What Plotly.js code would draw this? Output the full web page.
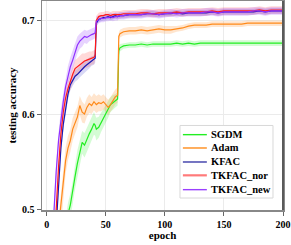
<!DOCTYPE html>
<html><head><meta charset="utf-8">
<script src="https://cdn.plot.ly/plotly-3.0.1.min.js"></script>
<style>html,body{margin:0;padding:0;background:#fff}#chart{width:291px;height:245px}</style>
</head><body><div id="chart"></div>
<script>
const epochs = [4,6,8,10,12,14,16,18,20,22,24,26,28,30,32,34,36,38,40,41,42,44,46,48,50,52,54,56,58,60,61,62,65,70,75,80,85,90,95,100,105,110,115,120,125,130,135,140,145,150,155,160,165,170,175,180,185,190,195,200];

const seriesNames = ["SGDM","Adam","KFAC","TKFAC_nor","TKFAC_new"];

const sgdm = [0.35,0.38,0.41,0.43,0.45,0.465,0.48,0.495,0.505,0.518,0.535,0.549,0.56,0.571,0.568,0.575,0.58,0.585,0.591,0.589,0.585,0.587,0.592,0.597,0.601,0.606,0.611,0.613,0.615,0.617,0.668,0.671,0.673,0.674,0.674,0.675,0.674,0.675,0.675,0.675,0.675,0.676,0.675,0.676,0.675,0.676,0.676,0.676,0.676,0.676,0.676,0.676,0.676,0.676,0.676,0.676,0.676,0.676,0.676,0.676];
const adam = [0.38,0.42,0.45,0.48,0.505,0.528,0.552,0.565,0.573,0.585,0.592,0.598,0.610,0.603,0.601,0.608,0.612,0.610,0.614,0.613,0.611,0.613,0.612,0.614,0.611,0.608,0.611,0.615,0.619,0.621,0.683,0.686,0.688,0.689,0.689,0.690,0.689,0.690,0.691,0.690,0.690,0.691,0.692,0.694,0.695,0.695,0.695,0.696,0.696,0.696,0.696,0.696,0.696,0.697,0.697,0.697,0.697,0.697,0.697,0.697];
const kfac = [0.40,0.44,0.48,0.52,0.565,0.59,0.608,0.622,0.632,0.637,0.641,0.643,0.646,0.648,0.651,0.653,0.655,0.657,0.658,0.660,0.697,0.701,0.702,0.703,0.703,0.704,0.703,0.704,0.705,0.704,0.705,0.705,0.705,0.706,0.706,0.706,0.707,0.707,0.706,0.707,0.707,0.708,0.707,0.708,0.708,0.708,0.708,0.709,0.708,0.709,0.709,0.709,0.709,0.709,0.709,0.710,0.709,0.710,0.710,0.710];
const tkfacNor = [0.41,0.45,0.50,0.545,0.58,0.603,0.618,0.628,0.636,0.643,0.649,0.651,0.654,0.656,0.657,0.658,0.659,0.660,0.661,0.663,0.700,0.704,0.705,0.705,0.706,0.706,0.705,0.706,0.706,0.706,0.706,0.706,0.707,0.707,0.707,0.708,0.708,0.707,0.708,0.708,0.708,0.709,0.708,0.709,0.709,0.709,0.709,0.710,0.709,0.710,0.710,0.710,0.710,0.710,0.710,0.711,0.710,0.711,0.711,0.711];
const tkfacNew = [0.45,0.50,0.54,0.573,0.597,0.614,0.630,0.642,0.651,0.658,0.667,0.674,0.678,0.680,0.683,0.682,0.684,0.685,0.686,0.687,0.699,0.701,0.702,0.702,0.703,0.703,0.704,0.703,0.704,0.704,0.705,0.705,0.705,0.706,0.706,0.706,0.707,0.707,0.706,0.707,0.708,0.707,0.708,0.708,0.708,0.708,0.709,0.709,0.708,0.709,0.709,0.709,0.709,0.709,0.710,0.710,0.709,0.710,0.710,0.710];

// half-width of shaded bands
const sgdmSpread = [0.012,0.012,0.012,0.012,0.012,0.012,0.012,0.012,0.012,0.012,0.013,0.014,0.013,0.012,0.013,0.012,0.011,0.012,0.012,0.011,0.012,0.011,0.010,0.010,0.010,0.009,0.008,0.008,0.007,0.007,0.005,0.004,0.003,0.003,0.003,0.003,0.003,0.003,0.003,0.003,0.003,0.003,0.003,0.003,0.003,0.003,0.003,0.003,0.003,0.003,0.003,0.003,0.003,0.003,0.003,0.003,0.003,0.003,0.003,0.003];
const adamSpread = [0.012,0.012,0.012,0.012,0.012,0.013,0.014,0.013,0.012,0.012,0.011,0.011,0.010,0.011,0.010,0.010,0.010,0.009,0.009,0.009,0.009,0.009,0.008,0.008,0.008,0.008,0.008,0.008,0.008,0.008,0.004,0.004,0.004,0.004,0.004,0.004,0.004,0.004,0.004,0.004,0.004,0.003,0.003,0.003,0.003,0.003,0.003,0.003,0.003,0.003,0.003,0.003,0.003,0.003,0.003,0.003,0.003,0.003,0.003,0.003];
const kfacSpread = [0.006,0.006,0.006,0.006,0.006,0.006,0.006,0.006,0.006,0.006,0.006,0.006,0.006,0.006,0.006,0.006,0.006,0.005,0.005,0.005,0.004,0.003,0.003,0.003,0.003,0.003,0.003,0.003,0.003,0.003,0.003,0.003,0.003,0.003,0.003,0.003,0.003,0.003,0.003,0.003,0.003,0.003,0.003,0.003,0.003,0.003,0.003,0.003,0.003,0.003,0.003,0.003,0.003,0.003,0.003,0.003,0.003,0.003,0.003,0.003];
const tkfacNorSpread = [0.008,0.008,0.008,0.008,0.008,0.008,0.008,0.008,0.008,0.009,0.009,0.009,0.009,0.009,0.008,0.008,0.008,0.007,0.007,0.006,0.005,0.004,0.004,0.004,0.004,0.004,0.004,0.004,0.004,0.004,0.004,0.004,0.004,0.004,0.004,0.004,0.004,0.004,0.004,0.004,0.004,0.004,0.004,0.004,0.004,0.004,0.004,0.004,0.004,0.004,0.004,0.004,0.004,0.004,0.004,0.004,0.004,0.004,0.004,0.004];
const tkfacNewSpread = [0.008,0.008,0.008,0.008,0.009,0.009,0.010,0.010,0.010,0.010,0.010,0.009,0.008,0.008,0.007,0.007,0.006,0.006,0.006,0.006,0.005,0.004,0.004,0.004,0.004,0.004,0.004,0.004,0.004,0.004,0.004,0.004,0.004,0.004,0.004,0.004,0.004,0.004,0.004,0.004,0.004,0.004,0.004,0.004,0.004,0.004,0.004,0.004,0.004,0.004,0.004,0.004,0.004,0.004,0.004,0.004,0.004,0.004,0.004,0.004];

const xTicks = [0,50,100,150,200];
const yTicks = [0.5,0.6,0.7];

const seriesData = [sgdm, adam, kfac, tkfacNor, tkfacNew];
const spreads = [sgdmSpread, adamSpread, kfacSpread, tkfacNorSpread, tkfacNewSpread];
const colors = ["#22ee22","#ff8a1a","#1818b4","#ff1a1a","#9030ff"];
const legendColors = ["#22ee22","#ff8c1a","#3a3aa8","#ff7a7a","#9a40ff"];
const legendWidths = [1.4,1.4,1.4,2.2,1.4];
const bandColors = ["rgba(60,240,60,0.22)","rgba(255,150,60,0.25)","rgba(40,40,200,0.18)","rgba(255,80,80,0.22)","rgba(160,80,255,0.25)"];

const traces = [];
seriesData.forEach((ys, i) => {
  const up = ys.map((v, j) => v + spreads[i][j]);
  const lo = ys.map((v, j) => v - spreads[i][j]);
  traces.push({x: epochs.concat(epochs.slice().reverse()), y: up.concat(lo.slice().reverse()),
    type: "scatter", mode: "lines", fill: "toself", fillcolor: bandColors[i],
    line: {width: 0}, showlegend: false, hoverinfo: "skip"});
});
seriesData.forEach((ys, i) => {
  traces.push({x: epochs, y: ys, type: "scatter", mode: "lines", name: seriesNames[i],
    line: {color: colors[i], width: 1.2}, showlegend: false});
});

const font = {family: "Liberation Serif, Times New Roman, serif", color: "#000", weight: "bold"};

// custom compact legend (paper coordinates)
const legX0 = 0.5726, legX1 = 0.9585, legY0 = 0.0574, legY1 = 0.4045;
const rowY = [0.3605, 0.2967, 0.2297, 0.1659, 0.0973];
const shapes = [{type: "rect", xref: "paper", yref: "paper", x0: legX0, x1: legX1, y0: legY0, y1: legY1,
  line: {color: "#d8d8d8", width: 1}, fillcolor: "#fff", layer: "above"},
  {type: "line", xref: "paper", yref: "paper", x0: 1, x1: 1, y0: 0, y1: 1,
  line: {color: "#5a5a5a", width: 2}, layer: "above"}];
const annotations = [];
seriesNames.forEach((n, i) => {
  shapes.push({type: "line", xref: "paper", yref: "paper", x0: 0.5846, x1: 0.6840, y0: rowY[i], y1: rowY[i],
    line: {color: legendColors[i], width: legendWidths[i]}, layer: "above"});
  annotations.push({xref: "paper", yref: "paper", x: 0.6937, y: rowY[i], xanchor: "left", yanchor: "middle",
    text: n, showarrow: false, font: Object.assign({}, font, {size: 10.5})});
});

const layout = {
  width: 291, height: 245,
  margin: {l: 42, r: 8, t: 1, b: 35},
  paper_bgcolor: "#fff", plot_bgcolor: "#fff",
  font: Object.assign({}, font, {size: 10}),
  showlegend: false,
  shapes: shapes, annotations: annotations,
  xaxis: {range: [-4, 200], tickvals: xTicks, ticks: "outside", ticklen: 4, tickcolor: "#666",
    showline: true, mirror: true, linecolor: "#888", linewidth: 1.5,
    showgrid: true, gridcolor: "#ebebeb", zeroline: false,
    tickfont: Object.assign({}, font, {size: 10}),
    title: {text: "epoch", font: Object.assign({}, font, {size: 11}), standoff: 3}},
  yaxis: {range: [0.4995, 0.7205], tickvals: yTicks, tickformat: ".1f", ticks: "outside", ticklen: 4, tickcolor: "#666",
    showline: true, mirror: true, linecolor: "#888", linewidth: 1.5,
    showgrid: true, gridcolor: "#ebebeb", zeroline: false,
    tickfont: Object.assign({}, font, {size: 10}),
    title: {text: "testing accuracy", font: Object.assign({}, font, {size: 11}), standoff: 3}}
};
Plotly.newPlot("chart", traces, layout, {staticPlot: true, displayModeBar: false});
</script>
</body></html>
